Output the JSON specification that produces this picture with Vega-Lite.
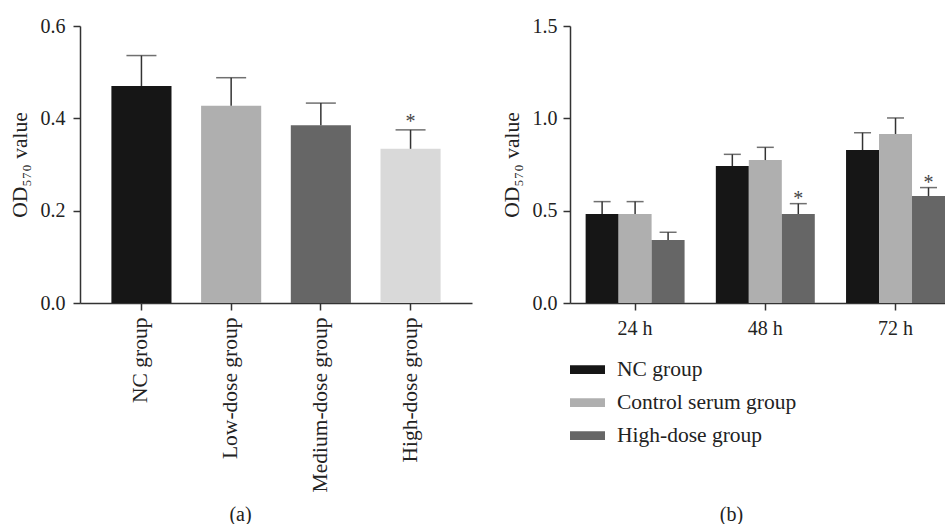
{
  "$schema": "https://vega.github.io/schema/vega-lite/v6.json",
  "padding": {"left": 9, "top": 16, "right": 0, "bottom": 0},
  "background": "white",
  "config": {
    "view": {"stroke": null},
    "font": "Liberation Serif",
    "axis": {
      "domainColor": "#333",
      "tickColor": "#333",
      "domainWidth": 1.5,
      "tickWidth": 1.5,
      "tickSize": 7,
      "grid": false,
      "labelFont": "Liberation Serif",
      "labelFontSize": 20,
      "labelColor": "#222",
      "titleFont": "Liberation Serif",
      "titleFontSize": 21.5,
      "titleFontWeight": "normal",
      "titleColor": "#222"
    }
  },
  "spacing": 29,
  "resolve": {"scale": {"color": "independent"}, "legend": {"color": "independent"}},
  "hconcat": [
    {
      "width": 392,
      "height": 277,
      "data": {"values": [
        {"group": "NC group", "value": 0.470, "err": 0.536, "star": ""},
        {"group": "Low-dose group", "value": 0.427, "err": 0.488, "star": ""},
        {"group": "Medium-dose group", "value": 0.385, "err": 0.433, "star": ""},
        {"group": "High-dose group", "value": 0.334, "err": 0.375, "star": "*"}
      ]},
      "encoding": {
        "x": {
          "field": "group", "type": "nominal", "sort": null,
          "scale": {"paddingInner": 0.33, "paddingOuter": 0.35},
          "axis": {"labelAngle": -90, "labelPadding": 7, "labelFontSize": 21.5, "title": "(a)", "titleFontSize": 20, "titleX": 160, "titleY": 211, "titleBaseline": "middle", "titleAlign": "center"}
        }
      },
      "layer": [
        {
          "mark": {"type": "bar"},
          "encoding": {
            "y": {"field": "value", "type": "quantitative", "scale": {"domain": [0, 0.6], "nice": false},
              "axis": {"values": [0, 0.2, 0.4, 0.6], "format": ".1f", "title": "OD₅₇₀ value", "labelPadding": 8, "titlePadding": 9}},
            "color": {"field": "group", "type": "nominal", "sort": null,
              "scale": {"domain": ["NC group", "Low-dose group", "Medium-dose group", "High-dose group"], "range": ["#161616", "#afafaf", "#666666", "#d9d9d9"]},
              "legend": null}
          }
        },
        {
          "mark": {"type": "rule", "color": "#333", "strokeWidth": 1.5},
          "encoding": {"y": {"field": "value", "type": "quantitative", "scale": {"domain": [0, 0.6], "nice": false}}, "y2": {"field": "err"}}
        },
        {
          "mark": {"type": "tick", "color": "#333", "size": 30, "thickness": 1.5},
          "encoding": {"y": {"field": "err", "type": "quantitative", "scale": {"domain": [0, 0.6], "nice": false}}}
        },
        {
          "mark": {"type": "text", "font": "Liberation Serif", "fontSize": 20, "color": "#444", "baseline": "alphabetic", "dy": -2},
          "encoding": {"y": {"field": "err", "type": "quantitative", "scale": {"domain": [0, 0.6], "nice": false}}, "text": {"field": "star"}}
        }
      ]
    },
    {
      "width": 375,
      "height": 277,
      "data": {"values": [
        {"time": "24 h", "group": "NC group", "value": 0.482, "err": 0.549, "star": ""},
        {"time": "24 h", "group": "Control serum group", "value": 0.482, "err": 0.549, "star": ""},
        {"time": "24 h", "group": "High-dose group", "value": 0.341, "err": 0.383, "star": ""},
        {"time": "48 h", "group": "NC group", "value": 0.742, "err": 0.805, "star": ""},
        {"time": "48 h", "group": "Control serum group", "value": 0.774, "err": 0.843, "star": ""},
        {"time": "48 h", "group": "High-dose group", "value": 0.482, "err": 0.538, "star": "*"},
        {"time": "72 h", "group": "NC group", "value": 0.828, "err": 0.922, "star": ""},
        {"time": "72 h", "group": "Control serum group", "value": 0.915, "err": 1.002, "star": ""},
        {"time": "72 h", "group": "High-dose group", "value": 0.579, "err": 0.625, "star": "*"}
      ]},
      "encoding": {
        "x": {
          "field": "time", "type": "nominal", "sort": null,
          "scale": {"paddingInner": 0.24, "paddingOuter": 0.06, "align": 1},
          "axis": {"labelAngle": 0, "labelPadding": 8, "title": "(b)", "titleFontSize": 20, "titleX": 161, "titleY": 211, "titleBaseline": "middle", "titleAlign": "center"}
        },
        "xOffset": {"field": "group", "type": "nominal", "sort": ["NC group", "Control serum group", "High-dose group"], "scale": {"paddingInner": 0, "paddingOuter": 0}}
      },
      "layer": [
        {
          "mark": {"type": "bar"},
          "encoding": {
            "y": {"field": "value", "type": "quantitative", "scale": {"domain": [0, 1.5], "nice": false},
              "axis": {"values": [0, 0.5, 1.0, 1.5], "format": ".1f", "title": "OD₅₇₀ value", "labelPadding": 6, "titlePadding": 9}},
            "color": {"field": "group", "type": "nominal",
              "scale": {"domain": ["NC group", "Control serum group", "High-dose group"], "range": ["#161616", "#afafaf", "#666666"]},
              "legend": {"orient": "none", "legendX": 0, "legendY": 326, "direction": "vertical", "title": null,
                "symbolType": "M-1,-0.25H1V0.25H-1Z", "symbolSize": 1225, "symbolStrokeWidth": 0, "symbolOpacity": 1,
                "labelFont": "Liberation Serif", "labelFontSize": 21.5, "labelColor": "#222", "labelOffset": 12, "labelLimit": 400, "rowPadding": 5, "padding": 0}}
          }
        },
        {
          "mark": {"type": "rule", "color": "#333", "strokeWidth": 1.5},
          "encoding": {"y": {"field": "value", "type": "quantitative", "scale": {"domain": [0, 1.5], "nice": false}}, "y2": {"field": "err"}}
        },
        {
          "mark": {"type": "tick", "color": "#333", "size": 17, "thickness": 1.5},
          "encoding": {"y": {"field": "err", "type": "quantitative", "scale": {"domain": [0, 1.5], "nice": false}}}
        },
        {
          "mark": {"type": "text", "font": "Liberation Serif", "fontSize": 20, "color": "#444", "baseline": "alphabetic", "dy": 1},
          "encoding": {"y": {"field": "err", "type": "quantitative", "scale": {"domain": [0, 1.5], "nice": false}}, "text": {"field": "star"}}
        }
      ]
    }
  ]
}
